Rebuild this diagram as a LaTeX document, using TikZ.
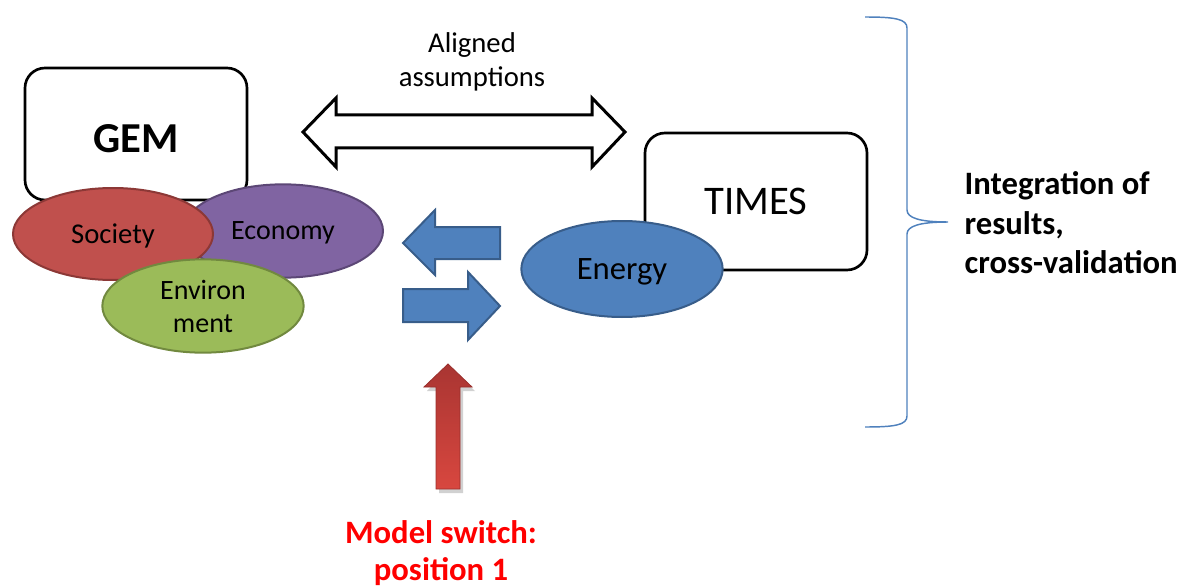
\documentclass[tikz,border=0pt]{standalone}
\usepackage{fontspec}
\setmainfont{Carlito}
\usetikzlibrary{shapes.geometric}
\definecolor{socF}{HTML}{C0504D}\definecolor{socD}{HTML}{8C3836}
\definecolor{ecoF}{HTML}{8064A2}\definecolor{ecoD}{HTML}{5C4776}
\definecolor{envF}{HTML}{9BBB59}\definecolor{envD}{HTML}{71893F}
\definecolor{enF}{HTML}{4F81BD}\definecolor{enD}{HTML}{385D8A}
\definecolor{redTop}{HTML}{A93532}\definecolor{redBot}{HTML}{D8473F}
\definecolor{redD}{HTML}{9A2F2C}
\begin{document}
\begin{tikzpicture}[x=0.75pt,y=-0.75pt,
  mbox/.style={draw=black, line width=2pt, rounded corners=15pt, fill=white, inner sep=0pt},
  ell/.style={ellipse, line width=1.5pt, inner sep=0pt, minimum width=150pt, minimum height=70pt, align=center},
  blockarrow/.style={fill=enF, draw=enD, line width=1.5pt, line join=miter},
  txt/.style={font=\fontsize{21.5}{25.5}\selectfont, align=center}]
\useasboundingbox (0,0) rectangle (1184,588);

% GEM box
\node[mbox, minimum width=166.5pt, minimum height=99pt] (gem) at (136,134) {};
\node[font=\bfseries\fontsize{32}{38}\selectfont] (gemt) at (136,139) {GEM};

% GEM ellipses
\node[ell, fill=ecoF, draw=ecoD, font=\fontsize{21}{25}\selectfont, text depth=0pt] (eco) at (283,231) {Economy};
\node[ell, fill=socF, draw=socD, font=\fontsize{21.5}{25}\selectfont, minimum height=69pt, text depth=1pt] (soc) at (113,234) {Society};
\node[ell, fill=envF, draw=envD, font=\fontsize{21}{24.75}\selectfont, minimum width=151pt] (env) at (203,306) {Environ\\ment};

% TIMES box and Energy
\node[mbox, minimum width=166.5pt, minimum height=102.75pt, font=\fontsize{30.5}{36}\selectfont] (times) at (756,201.5) {TIMES};
\node[ell, fill=enF, draw=enD, font=\fontsize{24.5}{29}\selectfont, minimum width=151pt, minimum height=72pt, text depth=0pt] (energy) at (622,269) {Energy};

% aligned assumptions double arrow
\node[txt] (aligned) at (472,62) {Aligned\\assumptions};
\draw[line width=2.25pt, fill=white, line join=miter]
  (303,132) -- (336,98) -- (336,115) -- (592,115) -- (592,98) -- (625,132)
  -- (592,167) -- (592,148) -- (336,148) -- (336,167) -- cycle;

% blue exchange arrows
\draw[blockarrow] (403,243) -- (435,210) -- (435,227) -- (500,227) -- (500,259)
  -- (435,259) -- (435,275) -- cycle;
\draw[blockarrow] (500,306) -- (468,272) -- (468,289) -- (403,289) -- (403,322)
  -- (468,322) -- (468,340) -- cycle;

% red model switch arrow
\fill[black, opacity=0.18] (450,367) -- (475,391) -- (463,391) -- (463,493)
  -- (439,493) -- (439,391) -- (427,391) -- cycle;
\draw[draw=redD, line width=0.6pt, top color=redTop, bottom color=redBot, line join=miter]
  (448,364) -- (472,387) -- (460,387) -- (460,489) -- (436,489) -- (436,387)
  -- (424,387) -- cycle;
\node[font=\bfseries\fontsize{24.5}{27.75}\selectfont, text=red, align=center] (switch) at (441,553) {Model switch:\\position 1};

% bracket and integration label
\node[font=\bfseries\fontsize{24.5}{29.6}\selectfont, align=left, anchor=west] (integ) at (960,223) {Integration of\\results,\\cross-validation};
\coordinate (btop) at (865,17);
\coordinate (bmid) at (948,222);
\coordinate (bbot) at (865,427);
\draw[enF, line width=1.1pt]
  (btop) .. controls (895,17) and (907,19) .. (907,28) -- (907,210)
  .. controls (907,218) and (920,222) .. (bmid)
  .. controls (920,222) and (907,226) .. (907,234) -- (907,416)
  .. controls (907,425) and (895,427) .. (bbot);
\end{tikzpicture}
\end{document}
